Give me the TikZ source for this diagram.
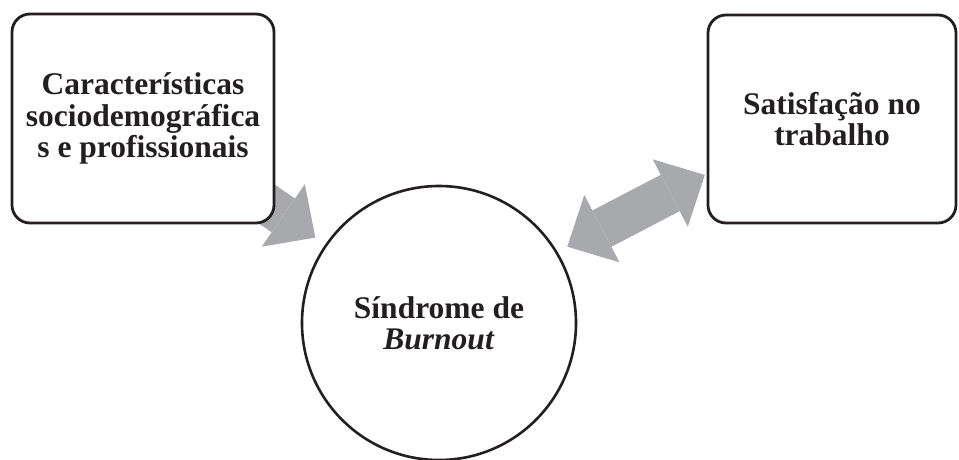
\documentclass[tikz,border=0pt]{standalone}
\usepackage{fontspec}
\setmainfont{Liberation Serif}
\usetikzlibrary{arrows.meta,backgrounds}
\definecolor{arrowgray}{RGB}{167,169,172}
\definecolor{inkblack}{RGB}{35,31,32}
\tikzstyle{textbox}=[draw=inkblack, text=inkblack, line width=2.8pt, fill=white, rounded corners=18pt, align=center, font=\bfseries\fontsize{31.5}{31.5}\selectfont]
\tikzstyle{bigarrow}=[draw=arrowgray, line width=41pt, >={Triangle[length=39pt,width=76pt,line width=0pt]}]

\begin{document}
\begin{tikzpicture}[x=1pt,y=-1pt]
\useasboundingbox (0,0) rectangle (959,459);
\node [textbox, minimum width=262pt, minimum height=209pt] (carac) at (143,118.5) {Características\\sociodemográfica\\s e profissionais};
\node [textbox, minimum width=248pt, minimum height=208pt] (satis) at (832,119) {Satisfação no\\trabalho};
\node [textbox, circle, line width=2.6pt, minimum size=274pt] (burn) at (439,323) {Síndrome de\\\textit{Burnout}};
\begin{scope}[on background layer]
\draw [bigarrow, ->, shorten >=12pt] (carac.center) -- (burn);
\draw [bigarrow, <->, shorten <=11pt, shorten >=2pt] (burn.31) -- ([yshift=-55pt]satis.west);
\end{scope}
\end{tikzpicture}
\end{document}
